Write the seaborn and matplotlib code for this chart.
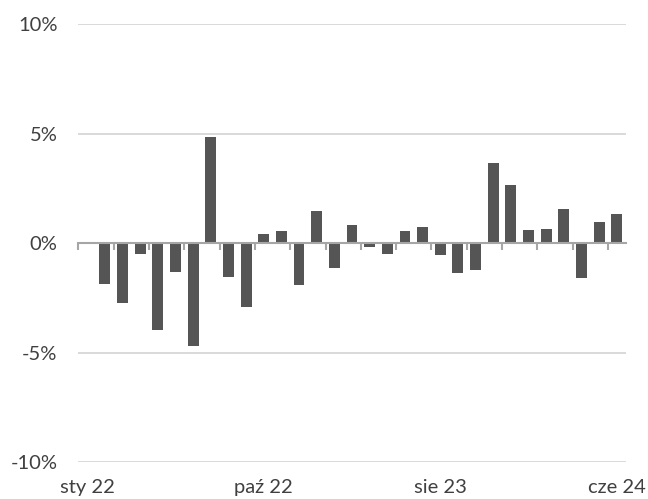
import numpy as np
import pandas as pd
import matplotlib
matplotlib.use("Agg")
import matplotlib.pyplot as plt
import seaborn as sns

# ---- data (monthly change, %) ----
positions = list(range(31))
values = [0.0,
          -1.88, -2.75, -0.51, -3.95, -1.33, -4.72, 4.87, -1.56, -2.93, 0.43,
          0.56, -1.93, 1.48, -1.15, 0.84, -0.19, -0.51, 0.56, 0.74, -0.56,
          -1.38, -1.24, 3.67, 2.66, 0.61, 0.65, 1.57, -1.61, 0.97, 1.34]
label_positions = [0, 10, 20, 30]
x_labels = ["sty 22", "paź 22", "sie 23", "cze 24"]
y_ticks = [-10, -5, 0, 5, 10]
y_labels = ["-10%", "-5%", "0%", "5%", "10%"]

sns.set_theme(style="white")
plt.rcParams["font.family"] = ["Lato", "DejaVu Sans"]

df = pd.DataFrame({"pos": positions, "val": values})

fig = plt.figure(figsize=(6.48, 4.99), dpi=100)
ax = fig.add_axes([78.3 / 648, 1 - 462 / 499, (625.7 - 78.3) / 648, (462 - 24.3) / 499])

sns.barplot(data=df, x="pos", y="val", color="#555555", saturation=1,
            width=0.62, linewidth=0, ax=ax, zorder=2)

ax.set_xlim(-0.5, 30.5)
ax.set_ylim(-10, 10)
ax.set_xlabel("")
ax.set_ylabel("")

# gridlines
ax.set_yticks(y_ticks)
ax.set_yticklabels(y_labels)
ax.yaxis.grid(True, color="#D9D9D9", linewidth=1.4, zorder=0)
ax.xaxis.grid(False)
ax.set_axisbelow(True)
ax.tick_params(axis="y", length=0, pad=15, labelsize=14.5, labelcolor="#404040")

# horizontal axis at zero with tick marks every two categories
for s in ["left", "right", "top"]:
    ax.spines[s].set_visible(False)
ax.spines["bottom"].set_position(("data", 0))
ax.spines["bottom"].set_color("#A6A6A6")
ax.spines["bottom"].set_linewidth(1.5)
ax.spines["bottom"].set_zorder(3)
ax.set_xticks(np.arange(-0.5, 31, 2))
ax.tick_params(axis="x", direction="out", length=5, width=1.5, color="#A6A6A6",
               labelbottom=False, bottom=True)

# category labels at the bottom
sec = ax.secondary_xaxis("bottom")
sec.set_xticks(label_positions, x_labels)
sec.spines["bottom"].set_visible(False)
sec.tick_params(length=0, pad=12.5, labelsize=14.5, labelcolor="#404040")

fig.savefig("out.png", dpi=100)
